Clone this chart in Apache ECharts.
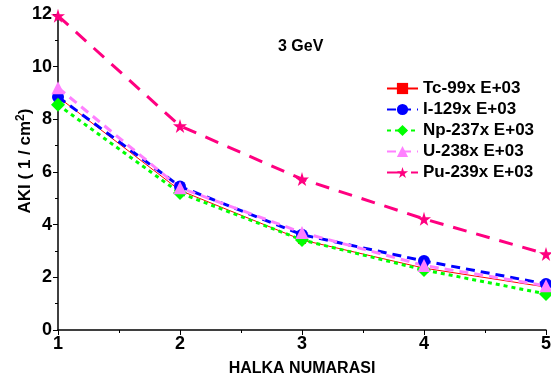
<!DOCTYPE html>
<html>
<head>
<meta charset="utf-8">
<script src="https://cdn.jsdelivr.net/npm/echarts@6/dist/echarts.min.js"></script>
<style>
  html, body { margin: 0; padding: 0; background: #fff; }
  #chart { width: 551px; height: 383px; }
</style>
</head>
<body>
<div id="chart"></div>
<script>
// ring number (x) and flux per series
const rings = [1, 2, 3, 4, 5];
const tc99 = [8.85, 5.3, 3.42, 2.35, 1.63];
const i129 = [8.85, 5.45, 3.62, 2.62, 1.75];
const np237 = [8.55, 5.2, 3.42, 2.28, 1.37];
const u238 = [9.2, 5.4, 3.7, 2.45, 1.68];
const pu239 = [11.93, 7.75, 5.73, 4.22, 2.89];

const STAR = "path://M50,0 L61,35 L98,35 L68,57 L79,91 L50,70 L21,91 L32,57 L2,35 L39,35 Z";
const FONT = "Liberation Sans, Arial, sans-serif";

const chart = echarts.init(document.getElementById("chart"), null, { renderer: "canvas" });

function line(name, vals, color, width, type, symbol, size) {
  return {
    name,
    type: "line",
    data: rings.map((r, i) => [r, vals[i]]),
    symbol,
    symbolSize: size,
    showAllSymbol: true,
    lineStyle: { color, width, type },
    itemStyle: { color },
    emphasis: { disabled: true },
  };
}

chart.setOption({
  animation: false,
  textStyle: { fontFamily: FONT },
  grid: { left: 58, right: 5, top: 14, bottom: 53, containLabel: false, outerBoundsMode: "none" },
  title: {
    text: "3 GeV",
    left: 273,
    top: 34,
    textStyle: { fontSize: 16, fontWeight: "bold", color: "#000", fontFamily: FONT },
  },
  legend: {
    orient: "vertical",
    left: 381,
    top: 75,
    itemWidth: 31,
    itemHeight: 14,
    itemGap: 4,
    textStyle: { fontSize: 17, fontWeight: "bold", color: "#000", fontFamily: FONT },
  },
  xAxis: {
    type: "value",
    min: 1,
    max: 5,
    interval: 1,
    name: "HALKA NUMARASI",
    nameLocation: "middle",
    nameGap: 31,
    nameTextStyle: { fontSize: 16, fontWeight: "bold", color: "#000" },
    axisLine: { lineStyle: { color: "#000", width: 1.5 } },
    axisTick: { lineStyle: { color: "#000" }, length: 5 },
    minorTick: { show: true, splitNumber: 2, length: 3, lineStyle: { color: "#000" } },
    axisLabel: { fontSize: 18, fontWeight: "bold", color: "#000", margin: 5 },
    splitLine: { show: false },
  },
  yAxis: {
    type: "value",
    min: 0,
    max: 12,
    interval: 2,
    name: "{n|AKI ( 1 / cm}{s|2}{n|)}",
    nameLocation: "middle",
    nameGap: 23,
    nameMoveOverlap: false,
    nameTextStyle: {
      padding: [0, 0, 0, 22],
      rich: {
        n: { fontSize: 17, fontWeight: "bold", color: "#000", fontFamily: FONT },
        s: { fontSize: 12, fontWeight: "bold", color: "#000", fontFamily: FONT, verticalAlign: "top", padding: [0, 0, 8, 0] },
      },
    },
    axisLine: { show: true, lineStyle: { color: "#000", width: 1.5 } },
    axisTick: { show: true, lineStyle: { color: "#000" }, length: 5 },
    minorTick: { show: true, splitNumber: 2, length: 3, lineStyle: { color: "#000" } },
    axisLabel: { fontSize: 18, fontWeight: "bold", color: "#000", margin: 6 },
    splitLine: { show: false },
  },
  series: [
    line("Tc-99x E+03", tc99, "#ff0000", 1, "solid", "rect", 8),
    line("I-129x E+03", i129, "#0000ff", 3, [9, 6], "circle", 12),
    line("Np-237x E+03", np237, "#00ff00", 3, [4, 4], "diamond", 14),
    line("U-238x E+03", u238, "#ff80ff", 3, [9, 6], "triangle", 13),
    line("Pu-239x E+03", pu239, "#ff0080", 3, [14, 10], STAR, 14),
  ],
});
</script>
</body>
</html>
